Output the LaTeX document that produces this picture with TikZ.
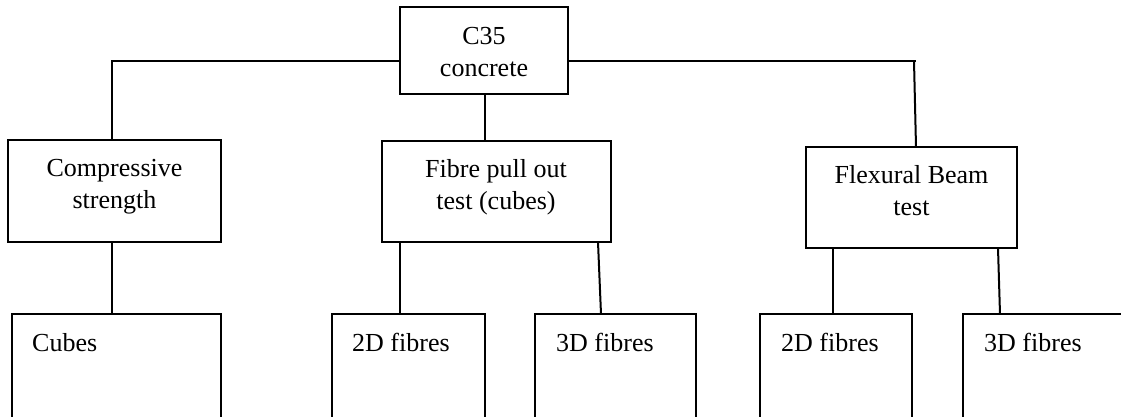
\documentclass[tikz,border=0pt]{standalone}
\usepackage{fontspec}
\setmainfont{Liberation Serif}
\begin{document}
\begin{tikzpicture}[x=1pt,y=-1pt,
  box/.style={draw, line width=2pt, rectangle, inner sep=0pt, outer sep=0pt, anchor=north west},
  lbl/.style={font=\fontsize{26}{31.5}\selectfont, align=center, inner sep=0pt, anchor=base},
  leaf/.style={font=\fontsize{26}{31.5}\selectfont, inner sep=0pt, anchor=base west},
  link/.style={line width=2pt}]
\useasboundingbox (0,0) rectangle (1121,416);
\clip (0,0) rectangle (1121,416);

% root (label placed by the baseline of its last line)
\node[box, minimum width=168pt, minimum height=87pt] (top) at (400,7) {};
\node[lbl] (topT) at (484,76) {C35\\concrete};

% second level
\node[box, minimum width=213pt, minimum height=102pt] (comp) at (8,140) {};
\node[lbl] (compT) at (114.5,208) {Compressive\\strength};
\node[box, minimum width=229pt, minimum height=101pt] (fibre) at (382,141) {};
\node[lbl] (fibreT) at (496,209) {Fibre pull out\\test (cubes)};
\node[box, minimum width=211pt, minimum height=101pt] (flex) at (806,147) {};
\node[lbl] (flexT) at (911.5,215) {Flexural Beam\\test};

% third level (boxes run off the lower edge)
\node[box, minimum width=209pt, minimum height=130pt] (cubes) at (12,314) {};
\node[leaf] (cubesT) at (32,351) {Cubes};
\node[box, minimum width=153pt, minimum height=130pt] (pa) at (332,314) {};
\node[leaf] (paT) at (352,351) {2D fibres};
\node[box, minimum width=161pt, minimum height=130pt] (pb) at (535,314) {};
\node[leaf] (pbT) at (556,351) {3D fibres};
\node[box, minimum width=152pt, minimum height=130pt] (fa) at (760,314) {};
\node[leaf] (faT) at (781,351) {2D fibres};
\node[box, minimum width=200pt, minimum height=130pt] (fb) at (963,314) {};
\node[leaf] (fbT) at (984,351) {3D fibres};

% connector bends and drop points
\coordinate (jl) at (112,61);
\coordinate (jr) at (914,61);
\coordinate (jrb) at (916,0);
\coordinate (xm) at (485,0);
\coordinate (xc) at (112,0);
\coordinate (xpa) at (400,0);
\coordinate (xpb1) at (598,0);
\coordinate (xpb2) at (601,0);
\coordinate (xfa) at (833,0);
\coordinate (xfb1) at (998,0);
\coordinate (xfb2) at (1000,0);

\draw[link] (top.west |- jl) -- (jl) -- (comp.north -| jl);
\draw[link] (top.east |- jr) -- ([xshift=2pt]jr);
\draw[link] (jr) -- (flex.north -| jrb);
\draw[link] (top.south -| xm) -- (fibre.north -| xm);

\draw[link] (comp.south -| xc) -- (cubes.north -| xc);
\draw[link] (fibre.south -| xpa) -- (pa.north -| xpa);
\draw[link] (fibre.south -| xpb1) -- (pb.north -| xpb2);
\draw[link] (flex.south -| xfa) -- (fa.north -| xfa);
\draw[link] (flex.south -| xfb1) -- (fb.north -| xfb2);
\end{tikzpicture}
\end{document}
